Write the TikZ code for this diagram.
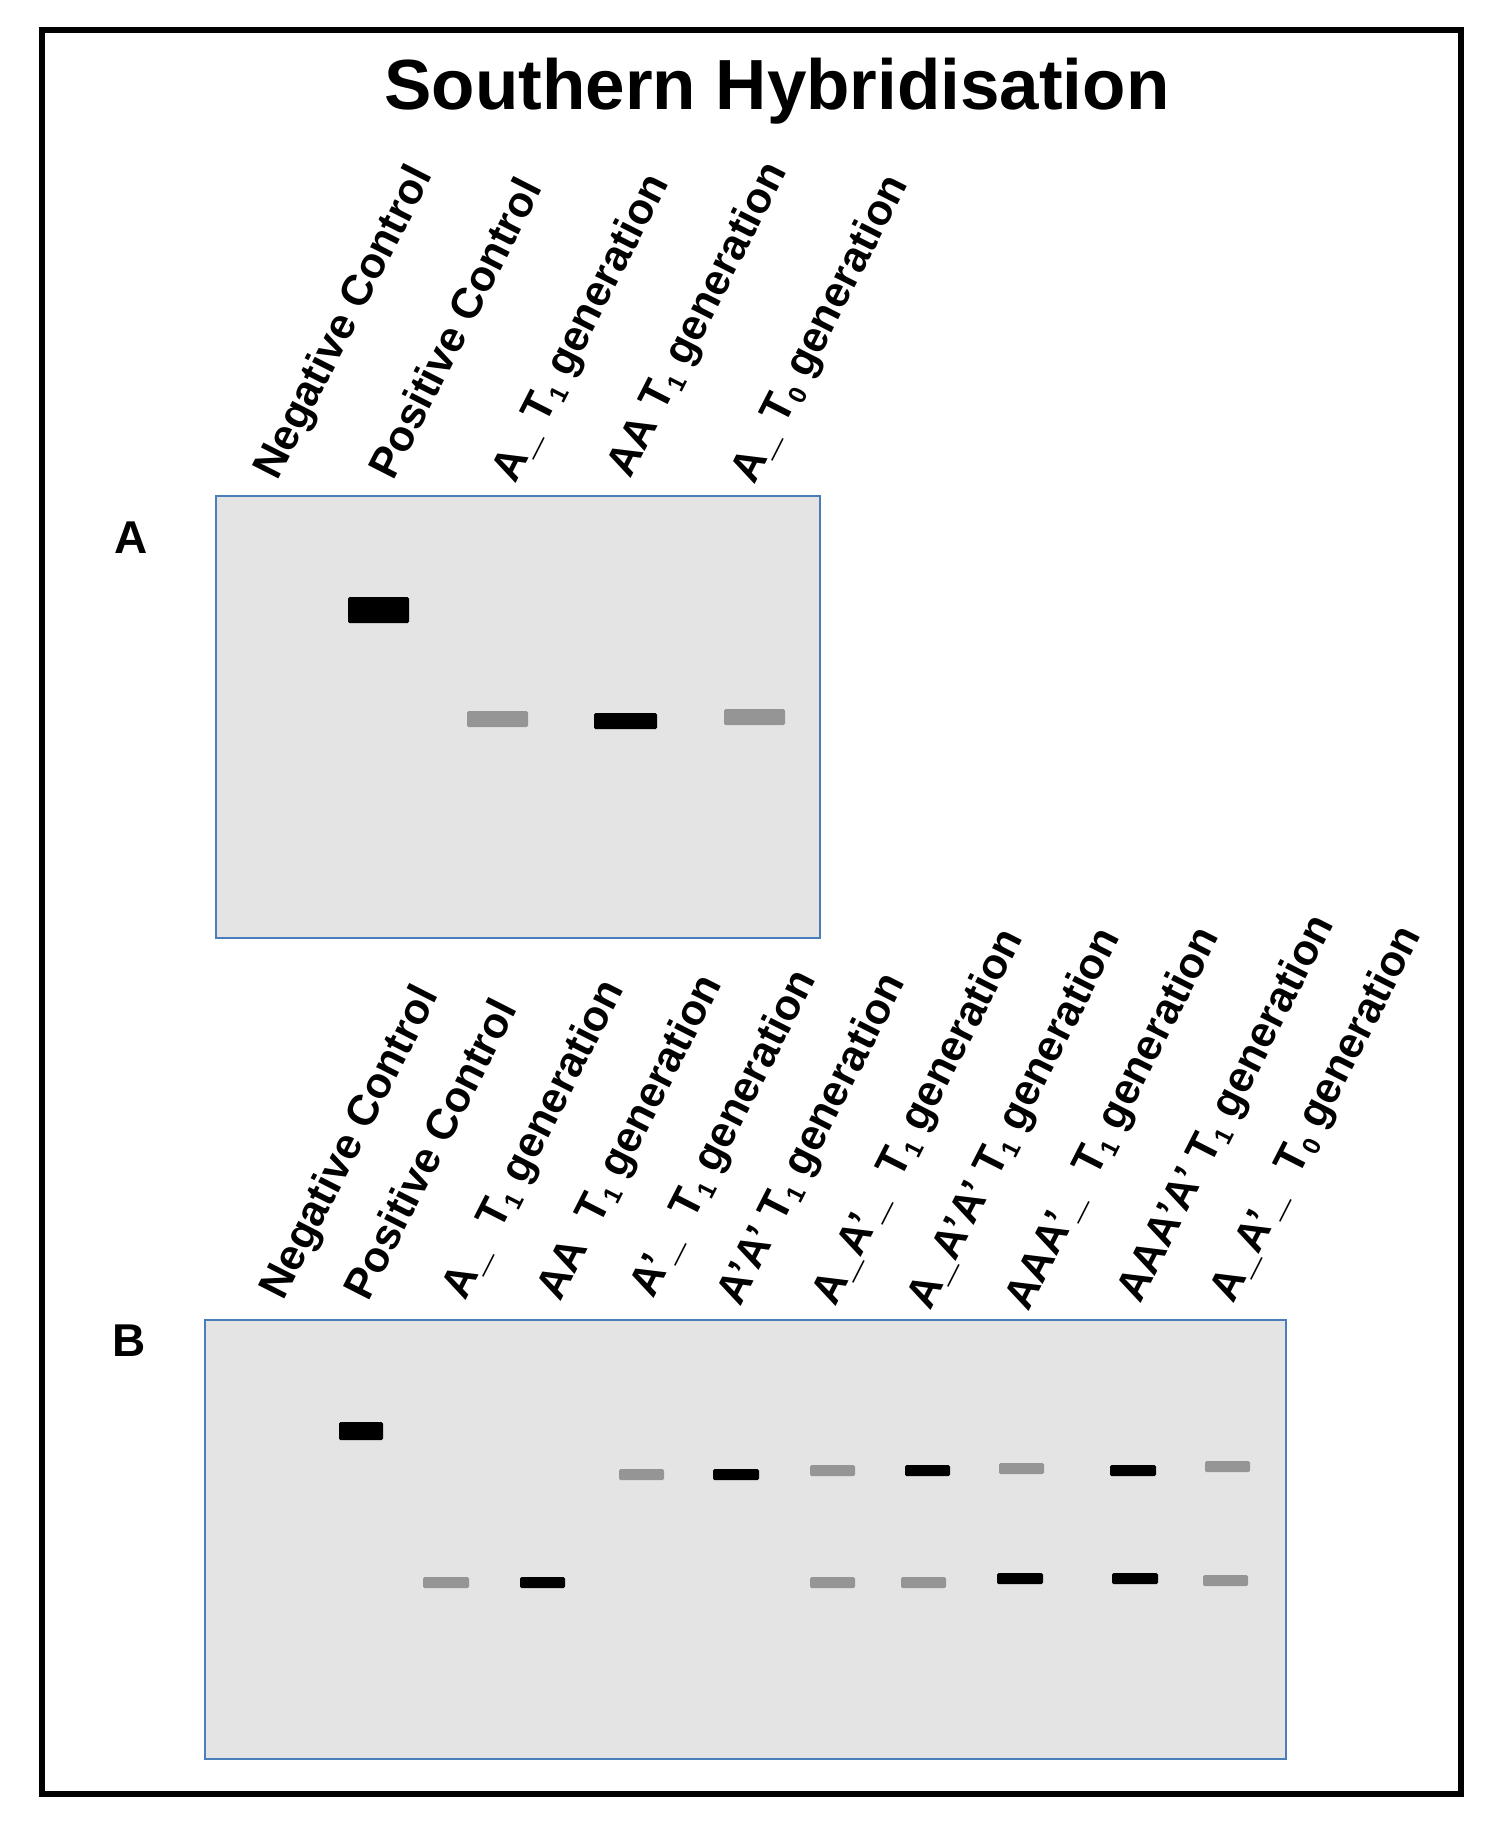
\documentclass[tikz,border=0pt]{standalone}
\usepackage{fontspec}
\setmainfont{Liberation Sans}
\definecolor{gelgray}{HTML}{E4E4E4}
\definecolor{bandgray}{HTML}{959595}
\definecolor{gelblue}{HTML}{4A7EBB}
\newcommand{\lowidx}[1]{\raisebox{-0.3ex}{\fontsize{25}{25}\selectfont #1}}
\begin{document}
\begin{tikzpicture}[x=1pt,y=-1pt,
  lane/.style={anchor=base west,inner sep=0pt,rotate=63,font=\fontsize{43}{50}\selectfont\bfseries},
  panel/.style={anchor=base west,inner sep=0pt,font=\fontsize{46}{50}\selectfont\bfseries},
  gel/.style={draw=gelblue,fill=gelgray,line width=2pt},
  dark/.style={fill=black,rounded corners=1.5pt},
  pale/.style={fill=bandgray,rounded corners=1.5pt}]
\useasboundingbox (0,0) rectangle (1498,1823);
\draw[line width=5.5pt] (42,30) rectangle (1461,1794);
\node[anchor=base,inner sep=0pt,font=\fontsize{71}{80}\selectfont\bfseries] (title) at (777,109) {Southern Hybridisation};

\node[panel] (nameA) at (114,553) {A};
\draw[gel] (216,496) rectangle (820,938);
\node[lane] (negA) at (277,482) {Negative Control}; \node[lane] (posA) at (393,482) {Positive Control};
\node[lane] (aT1A) at (515,485) {A\_ T\lowidx{1} generation}; \node[lane] (aaT1A) at (630,480) {AA T\lowidx{1} generation};
\node[lane] (aT0A) at (754,486) {A\_ T\lowidx{0} generation};
\fill[dark] (348,597) rectangle (409,623); \fill[pale] (467,711) rectangle (528,727);
\fill[dark] (594,713) rectangle (657,729); \fill[pale] (724,709) rectangle (785,725);

\node[panel] (nameB) at (112,1356) {B};
\draw[gel] (205,1320) rectangle (1286,1759);
\node[lane] (negB) at (283,1302) {Negative Control}; \node[lane] (posB) at (368,1303) {Positive Control};
\node[lane] (aT1B) at (465,1302) {A\_~~T\lowidx{1} generation}; \node[lane] (aaT1B) at (560,1303) {AA~~T\lowidx{1} generation};
\node[lane] (pT1B) at (653,1300) {A'\_~~T\lowidx{1} generation}; \node[lane] (ppT1B) at (740,1308) {A'A' T\lowidx{1} generation};
\node[lane] (apT1B) at (835,1308) {A\_A'\_~~T\lowidx{1} generation}; \node[lane] (appT1B) at (930,1312) {A\_A'A' T\lowidx{1} generation};
\node[lane] (aapT1B) at (1028,1313) {AAA'\_~~T\lowidx{1} generation}; \node[lane] (aappT1B) at (1140,1305) {AAA'A' T\lowidx{1} generation};
\node[lane] (apT0B) at (1233,1305) {A\_A'\_~~T\lowidx{0} generation};
\fill[dark] (339,1422) rectangle (383,1440);
\fill[pale] (423,1577) rectangle (469,1588); \fill[dark] (520,1577) rectangle (565,1588);
\fill[pale] (619,1469) rectangle (664,1480); \fill[dark] (713,1469) rectangle (759,1480);
\fill[pale] (810,1465) rectangle (855,1476); \fill[pale] (810,1577) rectangle (855,1588);
\fill[dark] (905,1465) rectangle (950,1476); \fill[pale] (901,1577) rectangle (946,1588);
\fill[pale] (999,1463) rectangle (1044,1474); \fill[dark] (997,1573) rectangle (1043,1584);
\fill[dark] (1110,1465) rectangle (1156,1476); \fill[dark] (1112,1573) rectangle (1158,1584);
\fill[pale] (1205,1461) rectangle (1250,1472); \fill[pale] (1203,1575) rectangle (1248,1586);
\end{tikzpicture}
\end{document}
